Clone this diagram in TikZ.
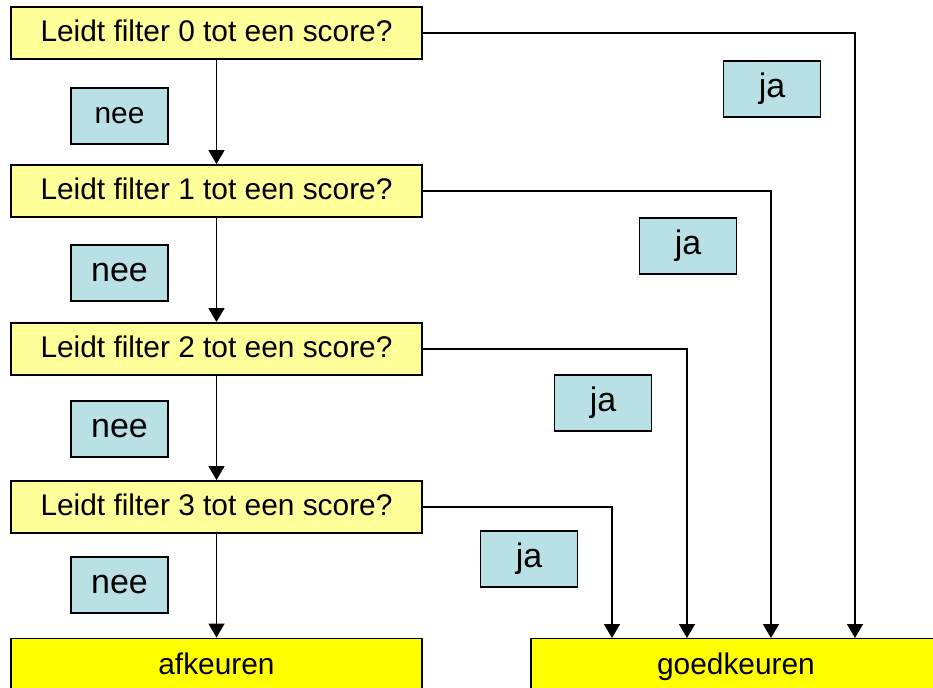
\documentclass[tikz,border=0pt]{standalone}
\usepackage{fontspec}
\setmainfont{Liberation Sans}
\usetikzlibrary{arrows.meta}
\definecolor{LG}{RGB}{255,255,153}
\definecolor{Y}{RGB}{255,255,0}
\definecolor{LB}{RGB}{185,224,228}

\begin{document}
\begin{tikzpicture}[x=0.75pt,y=-0.75pt,
    vraag/.style={draw,line width=1.4pt,fill=LG,minimum width=308pt,minimum height=39pt,inner sep=0pt,text height=16pt,text depth=3.2pt,font=\fontsize{22.4}{26}\selectfont},
    uitslag/.style={draw,line width=1.4pt,fill=Y,minimum width=308pt,minimum height=40.5pt,inner sep=0pt,text height=16pt,text depth=3pt,font=\fontsize{22.4}{26}\selectfont},
    label/.style={draw,line width=1.2pt,fill=LB,minimum width=73pt,minimum height=42pt,inner sep=0pt,font=\fontsize{25.5}{30}\selectfont},
    pijl/.style={line width=1.1pt,-{Triangle[width=12pt,length=10.5pt]}}]
    \useasboundingbox (0,0) rectangle (933,688);
    \clip (0,0) rectangle (933,688);

    % de vier vragen
    \node[vraag] (f0) at (216.5,33) {Leidt filter 0 tot een score?};
    \node[vraag] (f1) at (216.5,191) {Leidt filter 1 tot een score?};
    \node[vraag] (f2) at (216.5,349) {Leidt filter 2 tot een score?};
    \node[vraag] (f3) at (216.5,507) {Leidt filter 3 tot een score?};

    % eindboxen (onderkant valt buiten het plaatje)
    \node[uitslag] (af) at (216.5,665.5) {afkeuren};
    \node[uitslag] (goed) at (736,665.5) {goedkeuren};

    % nee-labels
    \node[label,font=\fontsize{22.4}{26}\selectfont] (nee0) at (119.5,116) {nee};
    \node[label] (nee1) at (119.5,273) {nee};
    \node[label] (nee2) at (119.5,429) {nee};
    \node[label] (nee3) at (119.5,585) {nee};

    % ja-labels
    \node[label] (ja0) at (772,89) {ja};
    \node[label] (ja1) at (688,246) {ja};
    \node[label] (ja2) at (603,403) {ja};
    \node[label] (ja3) at (529,559) {ja};

    % ingangen bovenkant goedkeuren
    \coordinate (in0) at (855,638);
    \coordinate (in1) at (771,638);
    \coordinate (in2) at (687,638);
    \coordinate (in3) at (612,638);

    %nee: naar beneden
    \draw[pijl] (f0) -- (f1);
    \draw[pijl] (f1) -- (f2);
    \draw[pijl] (f2) -- (f3);
    \draw[pijl] (f3) -- (af);

    %ja: naar rechts en dan naar beneden
    \draw[pijl] (f0.east) -| (in0);
    \draw[pijl] (f1.east) -| (in1);
    \draw[pijl] (f2.east) -| (in2);
    \draw[pijl] (f3.east) -| (in3);
\end{tikzpicture}
\end{document}
